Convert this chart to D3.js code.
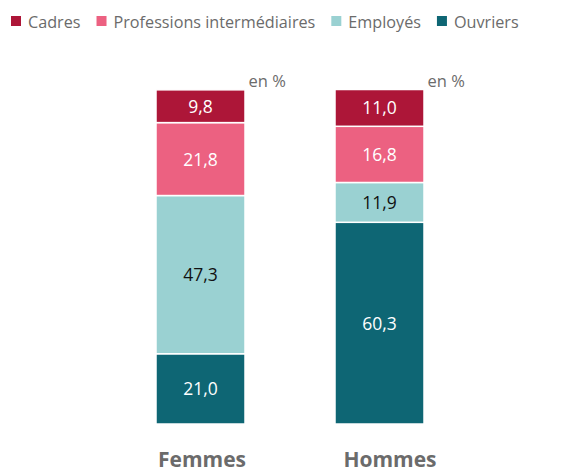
<!DOCTYPE html>
<html><head><meta charset="utf-8">
<script src="https://cdn.jsdelivr.net/npm/d3@7"></script>
<style>body{margin:0;background:#fff}svg{display:block;font-family:"Open Sans",sans-serif}</style>
</head><body>
<svg id="c" width="572" height="468"></svg>
<script>
const categories = ["Femmes", "Hommes"];
const seriesNames = ["Ouvriers", "Employés", "Professions intermédiaires", "Cadres"];
const legendOrder = ["Cadres", "Professions intermédiaires", "Employés", "Ouvriers"];
const ouvriers = [21.0, 60.3];
const employes = [47.3, 11.9];
const professions = [21.8, 16.8];
const cadres = [9.8, 11.0];
const unitLabel = "en %";

const colors = {"Cadres":"#ad1638","Professions intermédiaires":"#ec6181","Employés":"#9ad1d2","Ouvriers":"#0e6674"};
const textColors = {"Cadres":"#fff","Professions intermédiaires":"#fff","Employés":"#111","Ouvriers":"#fff"};
const values = {"Ouvriers":ouvriers,"Employés":employes,"Professions intermédiaires":professions,"Cadres":cadres};

const rows = categories.map((c,i)=>{const r={cat:c}; seriesNames.forEach(s=>r[s]=values[s][i]); return r;});
const stack = d3.stack().keys(seriesNames)(rows);

const svg = d3.select("#c");
const x = d3.scaleBand().domain(categories).range([111, 469]).paddingInner(1).paddingOuter(0.5);
const bw = 89;
const xc = d => x(d) + x.bandwidth()/2;
const y = d3.scaleLinear().domain([0, 100]).range([424, 89.5]);
const fmt = v => d3.format(".1f")(v).replace(".", ",");

const g = svg.append("g");
stack.forEach(layer=>{
  const key = layer.key;
  const lg = g.append("g");
  lg.selectAll("rect").data(layer).join("rect")
    .attr("x", d=>xc(d.data.cat)-bw/2).attr("width", bw)
    .attr("y", d=>y(d[1])).attr("height", d=>y(d[0])-y(d[1]))
    .attr("fill", colors[key]).attr("stroke","#fff").attr("stroke-width",1.5);
  lg.selectAll("text").data(layer).join("text")
    .attr("x", d=>xc(d.data.cat)).attr("y", d=>(y(d[0])+y(d[1]))/2+6.5)
    .attr("text-anchor","middle").attr("font-size",17.5).attr("fill",textColors[key])
    .text(d=>fmt(d[1]-d[0]));
});

// unit labels
g.selectAll("text.unit").data(categories).join("text").attr("class","unit")
  .attr("x", d=>xc(d)+bw/2+3.5).attr("y", 86.5).attr("font-size",16.5).attr("fill","#6b6b6b")
  .text(unitLabel);

// category labels
const xl = d3.scalePoint().domain(categories).range([202, 390]);
g.selectAll("text.cat").data(categories).join("text").attr("class","cat")
  .attr("x", d=>xl(d)).attr("y", 466.5).attr("text-anchor","middle")
  .attr("font-size",21).attr("font-weight","bold").attr("fill","#6b6b6b")
  .text(d=>d);

// legend
const leg = svg.append("g");
let lx = 11;
legendOrder.forEach(k=>{
  leg.append("rect").attr("x",lx).attr("y",16).attr("width",10).attr("height",10).attr("fill",colors[k]);
  const t = leg.append("text").attr("x",lx+17).attr("y",28).attr("font-size",16.2).attr("fill","#6b6b6b").text(k);
  lx += 17 + t.node().getComputedTextLength() + 16;
});
</script>
</body></html>
